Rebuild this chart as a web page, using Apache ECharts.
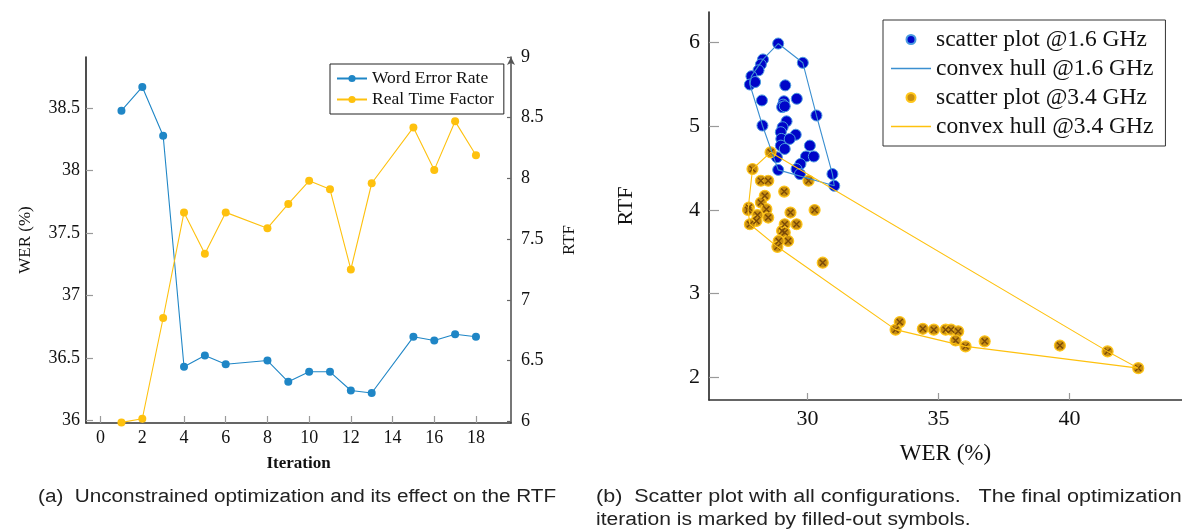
<!DOCTYPE html>
<html>
<head>
<meta charset="utf-8">
<script src="https://cdn.jsdelivr.net/npm/echarts@6/dist/echarts.min.js"></script>
<style>
  html, body { margin: 0; padding: 0; background: #fff; }
  #chart { width: 1182px; height: 532px; }
</style>
</head>
<body>
<div id="chart"></div>
<script>
// (a) optimization iterations: WER and real time factor per iteration
const iterations = [1, 2, 3, 4, 5, 6, 8, 9, 10, 11, 12, 13, 15, 16, 17, 18];
const werValues = [38.48, 38.67, 38.28, 36.43, 36.52, 36.45, 36.48, 36.31, 36.39, 36.39, 36.24, 36.22, 36.67, 36.64, 36.69, 36.67];
const rtfValues = [5.99, 6.02, 6.85, 7.72, 7.38, 7.72, 7.59, 7.79, 7.98, 7.91, 7.25, 7.96, 8.42, 8.07, 8.47, 8.19];

const iterTicks = [0, 2, 4, 6, 8, 10, 12, 14, 16, 18];
const werTicks = [36, 36.5, 37, 37.5, 38, 38.5];
const rtfTicks = [6, 6.5, 7, 7.5, 8, 8.5, 9];

// (b) all configurations as [WER, RTF]
const scatter16 = [
  [28.88, 5.99], [29.82, 5.76], [28.30, 5.80], [28.22, 5.74], [28.13, 5.67], [27.86, 5.60],
  [27.80, 5.50], [28.00, 5.53], [29.15, 5.49], [28.26, 5.31], [29.59, 5.33], [29.10, 5.30],
  [29.07, 5.26], [29.03, 5.23], [29.13, 5.24], [30.34, 5.13], [28.28, 5.01], [29.20, 5.06],
  [29.05, 4.99], [29.55, 4.90], [28.98, 4.93], [29.00, 4.85], [29.32, 4.85], [28.98, 4.77],
  [29.13, 4.73], [30.09, 4.77], [29.94, 4.64], [30.24, 4.64], [28.83, 4.63], [29.73, 4.55],
  [29.58, 4.49], [29.71, 4.43], [28.88, 4.48], [30.95, 4.43], [31.02, 4.29]
];
const hull16 = [
  [28.88, 5.99], [29.82, 5.76], [30.34, 5.13], [30.95, 4.43], [31.02, 4.29], [28.88, 4.48],
  [28.28, 5.01], [27.80, 5.50], [27.86, 5.60], [28.30, 5.80], [28.88, 5.99]
];
const scatter34 = [
  [28.59, 4.69], [27.90, 4.49], [28.22, 4.35], [28.50, 4.35], [30.04, 4.35], [29.11, 4.22],
  [28.37, 4.17], [28.22, 4.09], [27.76, 4.03], [27.73, 4.00], [28.43, 4.01], [28.50, 3.91],
  [28.09, 3.94], [28.05, 3.87], [27.80, 3.83], [29.35, 3.97], [30.27, 4.00], [29.58, 3.83],
  [29.13, 3.83], [29.03, 3.75], [29.13, 3.73], [29.26, 3.63], [28.90, 3.63], [28.85, 3.56],
  [30.58, 3.37], [33.52, 2.66], [33.36, 2.57], [34.40, 2.58], [34.82, 2.57], [35.27, 2.57],
  [35.48, 2.57], [35.75, 2.55], [35.65, 2.44], [36.03, 2.37], [36.76, 2.43], [39.63, 2.38],
  [41.45, 2.31], [42.62, 2.11]
];
const hull34 = [
  [28.59, 4.69], [41.45, 2.31], [42.62, 2.11], [36.03, 2.37], [33.36, 2.57], [28.85, 3.56],
  [27.80, 3.83], [27.73, 4.00], [27.90, 4.49], [28.59, 4.69]
];

const werScatterTicks = [30, 35, 40];
const rtfScatterTicks = [2, 3, 4, 5, 6];

const captionA = '(a)  Unconstrained optimization and its effect on the RTF';
const captionB1 = '(b)  Scatter plot with all configurations.   The final optimization';
const captionB2 = 'iteration is marked by filled-out symbols.';

const SERIF = '"Liberation Serif", "DejaVu Serif", serif';
const SANS_FONT = '18px "Liberation Sans", Arial, sans-serif';
const BLUE = '#1f86c6';
const GOLD = '#fec10e';
const HULL_ICON = 'path://M0,0L40,0L40,1.3L0,1.3Z';

const pair = (xs, ys) => xs.map((x, i) => [x, ys[i]]);

const chart = echarts.init(document.getElementById('chart'), null, { renderer: 'canvas' });

const tickGray = { show: true, inside: true, length: 7, lineStyle: { color: '#9a9a9a', width: 1.2 } };

const caption = (text, x, y, sx) => ({
  type: 'text', x: x, y: y, scaleX: sx, silent: true,
  style: { text: text, font: SANS_FONT, fill: '#222', textVerticalAlign: 'middle' }
});

chart.setOption({
  animation: false,
  backgroundColor: '#fff',
  graphic: [
    caption(captionA, 38, 497, 1.15),
    caption(captionB1, 596, 497, 1.195),
    caption(captionB2, 596, 520, 1.17)
  ],
  grid: [
    { left: 86, right: 671, top: 57, bottom: 109, containLabel: false },
    { left: 709, right: 0, top: 12, bottom: 132, containLabel: false }
  ],
  legend: [
    {
      data: ['Word Error Rate', 'Real Time Factor'],
      orient: 'vertical', left: 330, top: 64,
      itemWidth: 30, itemHeight: 9, itemGap: 0,
      padding: [4, 10, 4, 6],
      borderColor: '#222', borderWidth: 1, borderRadius: 0, backgroundColor: '#fff',
      textStyle: { fontFamily: SERIF, fontSize: 17.5, color: '#111', lineHeight: 21 }
    },
    {
      data: [
        { name: 'scatter plot @1.6 GHz' },
        { name: 'convex hull @1.6 GHz', icon: HULL_ICON },
        { name: 'scatter plot @3.4 GHz' },
        { name: 'convex hull @3.4 GHz', icon: HULL_ICON }
      ],
      orient: 'vertical', left: 883, top: 20,
      itemWidth: 40, itemHeight: 9, itemGap: 0,
      padding: [5, 12, 5, 8],
      borderColor: '#333', borderWidth: 1, borderRadius: 0, backgroundColor: '#fff',
      textStyle: { fontFamily: SERIF, fontSize: 23.5, color: '#111', lineHeight: 29 }
    }
  ],
  xAxis: [
    {
      gridIndex: 0, type: 'value', min: -0.7, max: 19.68,
      name: 'Iteration', nameLocation: 'middle', nameGap: 32,
      nameTextStyle: { fontFamily: SERIF, fontSize: 17, fontWeight: 'bold', color: '#111' },
      axisLine: { show: true, onZero: false, lineStyle: { color: '#333', width: 1.6 } },
      axisTick: Object.assign({ customValues: iterTicks }, tickGray),
      axisLabel: { customValues: iterTicks, fontFamily: SERIF, fontSize: 18, color: '#111', margin: 6 },
      splitLine: { show: false }
    },
    {
      gridIndex: 1, type: 'value', min: 26.24, max: 44.29,
      name: 'WER (%)', nameLocation: 'middle', nameGap: 42,
      nameTextStyle: { fontFamily: SERIF, fontSize: 23, color: '#111' },
      axisLine: { show: true, onZero: false, lineStyle: { color: '#333', width: 1.6 } },
      axisTick: Object.assign({ customValues: werScatterTicks }, tickGray),
      axisLabel: { customValues: werScatterTicks, fontFamily: SERIF, fontSize: 22, color: '#111', margin: 8 },
      splitLine: { show: false }
    }
  ],
  yAxis: [
    {
      gridIndex: 0, type: 'value', min: 35.98, max: 38.91, position: 'left',
      name: 'WER (%)', nameLocation: 'middle', nameGap: 52, nameRotate: 90,
      nameTextStyle: { fontFamily: SERIF, fontSize: 17, color: '#111' },
      axisLine: { show: true, onZero: false, lineStyle: { color: '#222', width: 1.6 } },
      axisTick: Object.assign({ customValues: werTicks }, tickGray),
      axisLabel: { customValues: werTicks, fontFamily: SERIF, fontSize: 18, color: '#111', margin: 6 },
      splitLine: { show: false }
    },
    {
      gridIndex: 0, type: 'value', min: 5.985, max: 9, position: 'right',
      name: 'RTF', nameLocation: 'middle', nameGap: 50, nameRotate: 90,
      nameTextStyle: { fontFamily: SERIF, fontSize: 17, color: '#111' },
      axisLine: { show: true, onZero: false, symbol: ['none', 'arrow'], symbolSize: [6, 8], lineStyle: { color: '#555', width: 1.6 } },
      axisTick: { show: true, inside: true, length: 4, customValues: rtfTicks, lineStyle: { color: '#666', width: 1.2 } },
      axisLabel: { customValues: rtfTicks, fontFamily: SERIF, fontSize: 18, color: '#111', margin: 10 },
      splitLine: { show: false }
    },
    {
      gridIndex: 1, type: 'value', min: 1.729, max: 6.367,
      name: 'RTF', nameLocation: 'middle', nameGap: 72, nameRotate: 90,
      nameTextStyle: { fontFamily: SERIF, fontSize: 22, color: '#111' },
      axisLine: { show: true, onZero: false, lineStyle: { color: '#222', width: 1.6 } },
      axisTick: Object.assign({}, tickGray, { customValues: rtfScatterTicks, length: 10 }),
      axisLabel: { customValues: rtfScatterTicks, fontFamily: SERIF, fontSize: 22, color: '#111', margin: 9 },
      splitLine: { show: false }
    }
  ],
  series: [
    {
      name: 'Word Error Rate', type: 'line', xAxisIndex: 0, yAxisIndex: 0,
      data: pair(iterations, werValues),
      symbol: 'circle', symbolSize: 8, showAllSymbol: true,
      itemStyle: { color: BLUE }, lineStyle: { color: BLUE, width: 1.1 }
    },
    {
      name: 'Real Time Factor', type: 'line', xAxisIndex: 0, yAxisIndex: 1,
      data: pair(iterations, rtfValues),
      symbol: 'circle', symbolSize: 8, showAllSymbol: true,
      itemStyle: { color: GOLD }, lineStyle: { color: GOLD, width: 1.1 }
    },
    {
      name: 'scatter plot @1.6 GHz', type: 'scatter', xAxisIndex: 1, yAxisIndex: 2,
      data: scatter16, symbol: 'circle', symbolSize: 11,
      itemStyle: { color: '#0005c8', borderColor: '#4a9be0', borderWidth: 1, opacity: 1 }
    },
    {
      name: 'convex hull @1.6 GHz', type: 'line', xAxisIndex: 1, yAxisIndex: 2,
      data: hull16, symbol: 'none',
      itemStyle: { color: '#3b8fd0' }, lineStyle: { color: '#3b8fd0', width: 1.1 }
    },
    {
      name: 'scatter plot @3.4 GHz', type: 'scatter', xAxisIndex: 1, yAxisIndex: 2,
      data: scatter34, symbol: 'circle', symbolSize: 11,
      itemStyle: { color: '#c98f10', borderColor: '#ffc61a', borderWidth: 1.2, opacity: 1 }
    },
    {
      // the cross inside each 3.4 GHz marker
      name: 'marks34', type: 'scatter', xAxisIndex: 1, yAxisIndex: 2,
      data: scatter34, symbol: 'path://M0,0L10,10M10,0L0,10', symbolSize: 6, silent: true,
      itemStyle: { color: 'transparent', borderColor: '#7a4a08', borderWidth: 1.4, opacity: 1 }
    },
    {
      name: 'convex hull @3.4 GHz', type: 'line', xAxisIndex: 1, yAxisIndex: 2,
      data: hull34, symbol: 'none',
      itemStyle: { color: GOLD }, lineStyle: { color: GOLD, width: 1.1 }
    }
  ]
});
</script>
</body>
</html>
